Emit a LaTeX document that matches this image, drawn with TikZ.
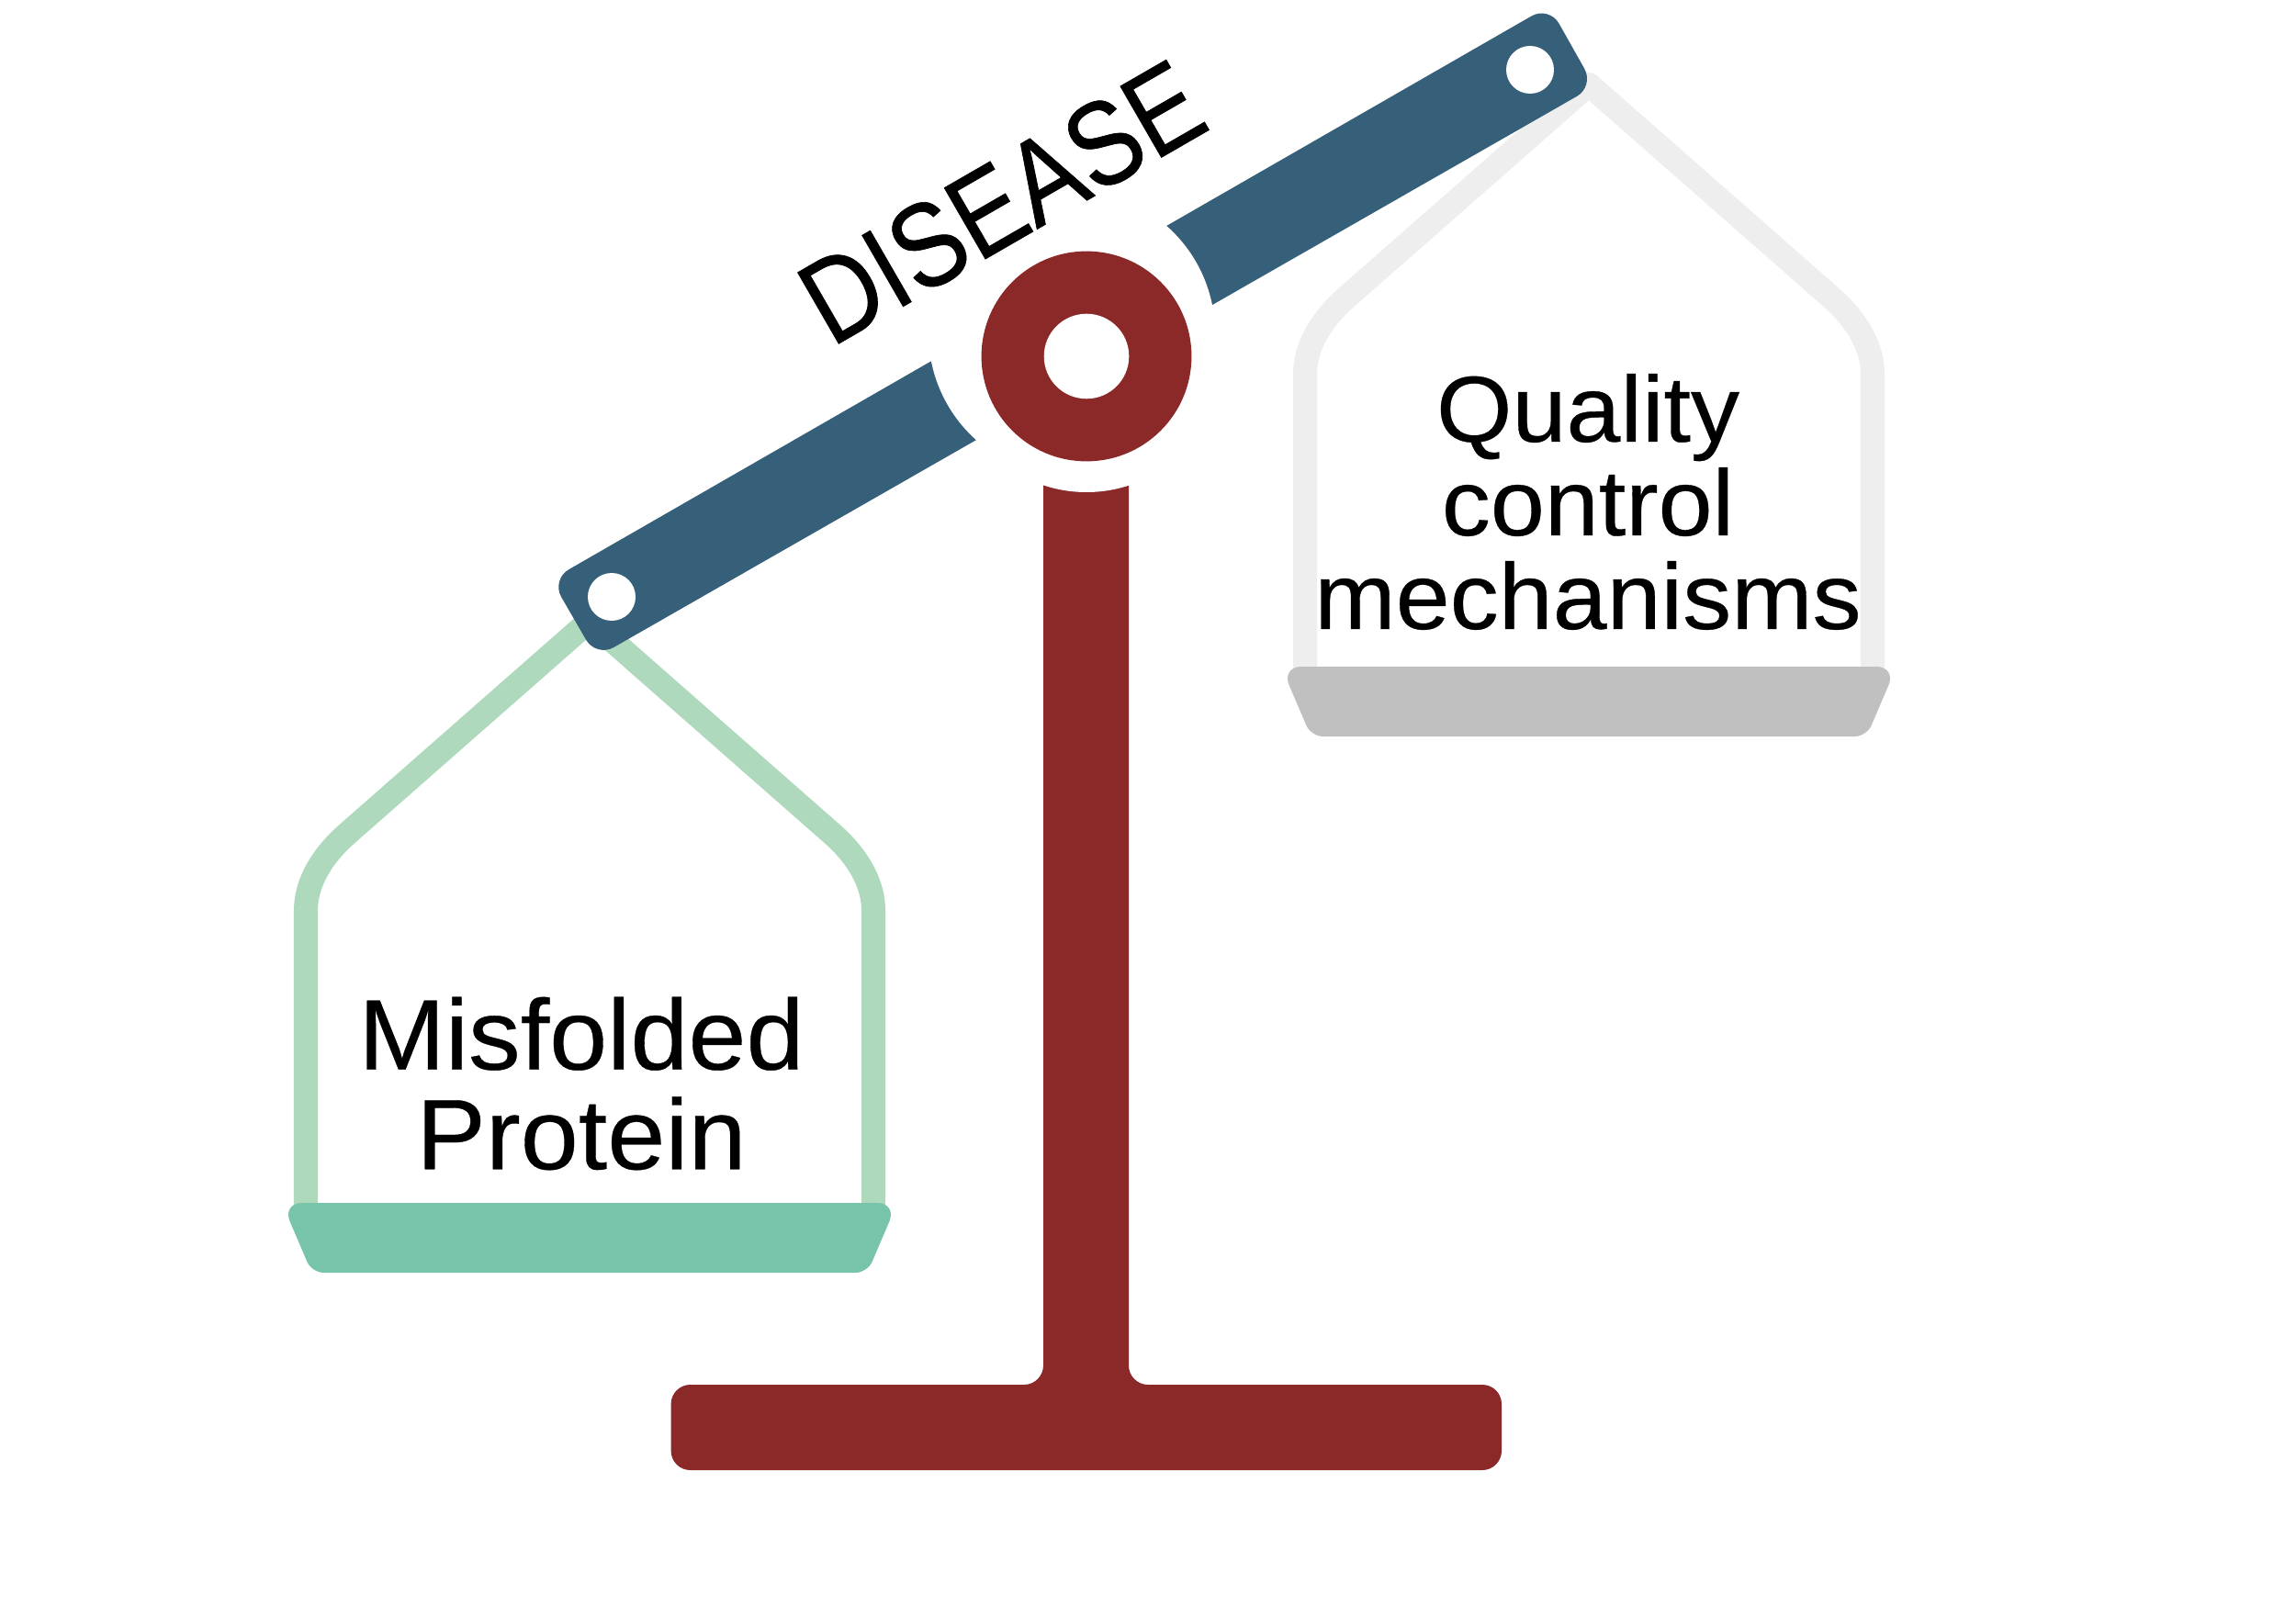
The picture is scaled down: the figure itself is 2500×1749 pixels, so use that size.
\documentclass[tikz,border=0pt]{standalone}
\usepackage{fontspec}
\setmainfont[FakeStretch=1.04,FakeBold=0.3]{Liberation Sans}
\newfontfamily\diseasefont[FakeStretch=0.85,FakeBold=0.5]{Liberation Sans}
\definecolor{stand}{HTML}{8B2828}
\definecolor{beam}{HTML}{36607A}
\definecolor{lefthang}{HTML}{AED9BD}
\definecolor{leftpan}{HTML}{78C4AB}
\definecolor{righthang}{HTML}{EEEEEE}
\definecolor{rightpan}{HTML}{C0C0C0}
\tikzset{
  hanger/.style={line width=0.26cm,line join=round},
  bigtext/.style={align=center,inner sep=0pt,text=black},
}
\begin{document}
\begin{tikzpicture}[x=0.01cm,y=-0.01cm]
\useasboundingbox[fill=white] (0,0) rectangle (2500,1749);
% stand
\fill[stand,rounded corners=0.21cm] (1136,500) -- (1136,1508) -- (730.6,1508) -- (730.6,1601) -- (1635,1601) -- (1635,1508) -- (1229,1508) -- (1229,500) -- cycle;
\fill[white] (1183,388) circle[radius=148];
% left scale
\draw[hanger,lefthang] (333,1320) -- (333,992) .. controls (333,959) and (353,930) .. (378,908) -- (642,676) -- (906,908) .. controls (931,930) and (951,959) .. (951,992) -- (951,1320);
\fill[leftpan] (307,1310) [rounded corners=0.22cm] -- (977,1310) [rounded corners=0.13cm] -- (944.5,1386) -- (339.5,1386) [rounded corners=0.22cm] -- cycle;
% right scale
\draw[hanger,righthang] (1421,736) -- (1421,408) .. controls (1421,375) and (1441,346) .. (1466,324) -- (1730,92) -- (1994,324) .. controls (2019,346) and (2039,375) .. (2039,408) -- (2039,736);
\fill[rightpan] (1395,726) [rounded corners=0.22cm] -- (2065,726) [rounded corners=0.13cm] -- (2032.5,802) -- (1427.5,802) [rounded corners=0.22cm] -- cycle;
% beam
\fill[beam,rounded corners=0.22cm] (600.2,631.2) -- (1686.7,6.5) -- (1736,94) -- (649.2,715.9) -- cycle;
\fill[white] (1167,363) circle[radius=156];
\fill[stand] (1183,388) circle[radius=114.4];
\fill[white] (1183,388) circle[radius=46.3];
\fill[white] (666,650) circle[radius=26];
\fill[white] (1666,76) circle[radius=26];
% labels
\node[bigtext,font=\fontsize{31pt}{30.87pt}\selectfont] (misfolded) at (633,1180) {Misfolded\\Protein};
\node[bigtext,font=\fontsize{29pt}{29pt}\selectfont] (quality) at (1729,546.5) {Quality\\control\\mechanisms};
\node[inner sep=0pt,anchor=base,rotate=30,font=\diseasefont\fontsize{37pt}{37pt}\selectfont] (disease) at (1113,259) {DISEASE};
\end{tikzpicture}
\end{document}
